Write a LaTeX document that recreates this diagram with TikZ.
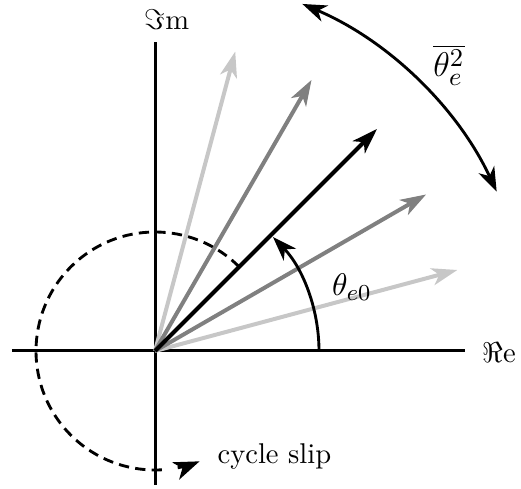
\documentclass[tikz,border=0pt]{standalone}
\usetikzlibrary{arrows.meta}
\definecolor{lightg}{gray}{0.78}
\definecolor{midg}{gray}{0.5}
\begin{document}
\begin{tikzpicture}[x=0.35pt,y=0.35pt,
  >={Stealth[length=8.5pt,width=6pt,inset=2.5pt]},
  axis/.style={line width=1.05pt},
  vec/.style={line width=1.4pt,-{Stealth[length=9pt,width=6pt,inset=2.5pt]}},
  arcarrow/.style={line width=1pt}]
\useasboundingbox (-155,-138) rectangle (366,351);
\coordinate (O) at (0,0);
% axes
\coordinate (xl) at (-143,0);
\coordinate (xr) at (310,0);
\coordinate (yb) at (0,-134);
\coordinate (yt) at (0,309);
\draw[axis] (xl) -- (xr);
\draw[axis] (yb) -- (yt);
\node[anchor=west,inner sep=0pt] (re) at (327,-2) {$\Re\mathrm{e}$};
\node[inner sep=0pt] (im) at (12,331) {$\Im\mathrm{m}$};
% vectors
\coordinate (t15) at (15:313);
\coordinate (t30) at (30:313);
\coordinate (t45) at (45:314);
\coordinate (t60) at (60:313);
\coordinate (t75) at (75:310);
\draw[vec,lightg] (O) -- (t15);
\draw[vec,lightg] (O) -- (t75);
\draw[vec,midg] (O) -- (t30);
\draw[vec,midg] (O) -- (t60);
% dashed cycle slip circle
\coordinate (cs) at (45:119);
\coordinate (ce) at (281:119);
\draw[arcarrow,dash pattern=on 3.6pt off 2.2pt] (cs) arc[start angle=45,end angle=275,radius=119];
\draw[arcarrow,-{Stealth[length=9pt,width=6.5pt,inset=2.5pt]}] (ce) arc[start angle=281,end angle=292,radius=119];
\draw[vec,black] (O) -- (t45);
% theta_e0 arc
\coordinate (a0) at (164,0);
\draw[arcarrow,->] (a0) arc[start angle=0,end angle=44,radius=164];
\node (th0) at (197,64) {\fontsize{11}{13}\selectfont$\theta_{e0}$};
% variance arc
\coordinate (b0) at (25:377);
\draw[arcarrow,<->] (b0) arc[start angle=25,end angle=67,radius=377];
\node (th2) at (294,286) {\fontsize{13}{15}\selectfont$\overline{\theta_e^2}$};
\node[anchor=west,inner sep=0pt] (slip) at (62,-106) {cycle slip};
\end{tikzpicture}
\end{document}
